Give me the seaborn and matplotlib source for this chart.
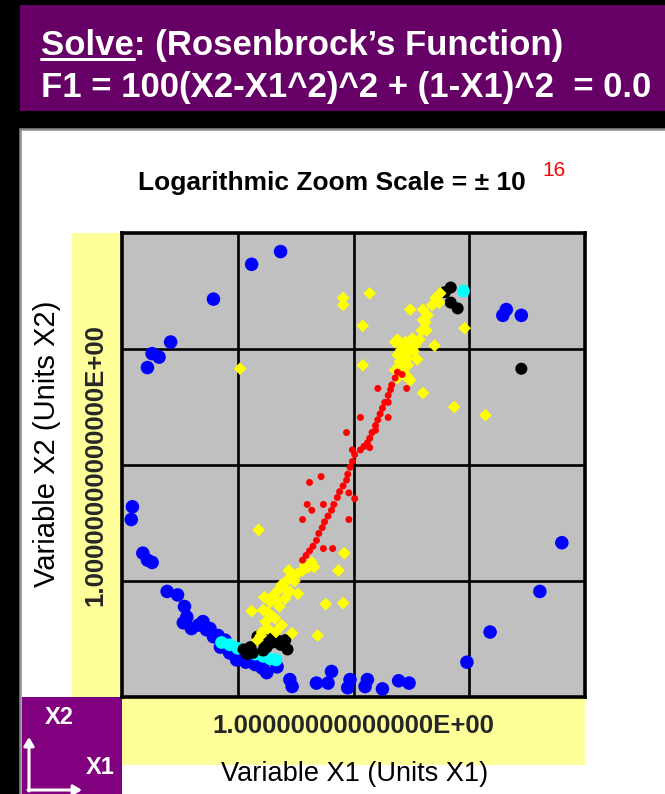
import matplotlib
matplotlib.use("Agg")
import matplotlib.pyplot as plt
from matplotlib.patches import Rectangle, FancyArrowPatch
from matplotlib.lines import Line2D
import seaborn as sns

# ---- solver iterates (axis units, centre of view = 1.0) ----
blue_x1 = [-0.21, 0.12, 0.37, -0.58, -0.74, -0.68, -0.78, 2.32, 2.29, 2.45,
           -0.91, -0.92, -0.82, -0.78, -0.74, -0.61, -0.52, -0.46, -0.44, -0.47,
           -0.40, -0.34, -0.27, -0.21, -0.15, -0.07, -0.01, 0.11, 0.22, 0.25,
           0.34, 0.45, 0.47, 0.68, 0.81, 0.78, 0.97, 0.95, 1.10, 1.12,
           1.25, 1.39, 1.48, 1.98, 2.18, 2.61, 2.80,
           -0.30, -0.24, -0.17, -0.11, -0.05, 0.02, 0.07, 0.15, 0.21]
blue_x2 = [2.43, 2.73, 2.84, 2.06, 1.96, 1.93, 1.84, 2.34, 2.29, 2.29,
           0.64, 0.53, 0.24, 0.18, 0.16, -0.09, -0.12, -0.22, -0.31, -0.36,
           -0.41, -0.38, -0.42, -0.48, -0.57, -0.62, -0.68, -0.68, -0.71, -0.79,
           -0.74, -0.85, -0.91, -0.88, -0.78, -0.88, -0.85, -0.92, -0.91, -0.85,
           -0.93, -0.86, -0.88, -0.70, -0.44, -0.09, 0.33,
           -0.35, -0.41, -0.47, -0.51, -0.58, -0.64, -0.70, -0.72, -0.75]

cyan_x1 = [-0.14, -0.07, 0.00, 0.07, 0.15, 0.22, 0.28, 0.33, 1.95]
cyan_x2 = [-0.53, -0.55, -0.58, -0.60, -0.63, -0.65, -0.67, -0.68, 2.50]

black_x1 = [0.05, 0.11, 0.13, 0.17, 0.19, 0.25, 0.30, 0.34, 0.41, 0.43,
            0.08, 0.22, 0.28, 0.37,
            1.79, 1.84, 1.84, 1.90, 2.45]
black_x2 = [-0.59, -0.57, -0.62, -0.48, -0.51, -0.57, -0.53, -0.51, -0.51, -0.59,
            -0.63, -0.60, -0.49, -0.55,
            2.49, 2.53, 2.40, 2.35, 1.83]

yellow_x1 = [0.17, 0.21, 0.24, 0.26, 0.28, 0.31, 0.35, 0.38, 0.43, 0.47,
             0.51, 0.56, 0.61, 0.64, 0.26, 0.32, 0.36, 0.41, 0.45, 0.33, 0.38,
             0.20, 0.29, 0.34, 0.40, 0.49, 0.58, 0.66,
             0.18, 0.12, 0.22, 0.23, 0.44, 0.52, 0.47, 0.69, 0.76, 0.91, 0.87, 0.92,
             1.36, 1.40, 1.44, 1.49, 1.53, 1.43, 1.36, 1.51, 1.57, 1.47, 1.55,
             1.38, 1.59, 1.62, 1.64, 1.68, 1.71, 1.75, 1.38, 1.44, 1.49,
             1.41, 1.46, 1.52, 1.40, 1.45,
             1.14, 0.91, 0.91, 1.74, 1.49, 1.60, 1.08, 1.96, 1.60, 1.63, 1.38,
             1.70, 1.08, 1.47, 1.60, 1.87, 2.14, 0.02]
yellow_x2 = [-0.51, -0.44, -0.35, -0.27, -0.18, -0.12, -0.08, -0.03, 0.01, 0.03,
             0.06, 0.09, 0.12, 0.16, -0.41, -0.32, -0.22, -0.15, -0.09, -0.44, -0.38,
             -0.47, -0.30, -0.17, -0.06, 0.00, 0.13, 0.12,
             0.44, -0.26, -0.25, -0.14, 0.09, -0.11, -0.45, -0.47, -0.20, -0.19, 0.09, 0.24,
             1.82, 1.89, 1.95, 1.99, 2.03, 2.03, 2.06, 2.09, 2.08, 1.86, 1.91,
             1.95, 2.16, 2.23, 2.29, 2.38, 2.44, 2.48, 1.75, 1.78, 1.73,
             1.99, 1.92, 1.98, 1.84, 2.06,
             2.48, 2.44, 2.38, 2.40, 2.34, 2.34, 2.20, 2.18, 2.25, 2.16, 2.08,
             2.03, 1.86, 1.76, 1.62, 1.50, 1.43, 1.83]

red_x1 = [1.38, 1.36, 1.33, 1.32, 1.30, 1.27, 1.25, 1.23, 1.21, 1.19,
          1.16, 1.14, 1.12, 1.09, 1.06, 1.01, 0.99, 0.97, 0.95, 0.94,
          0.91, 0.88, 0.86, 0.83, 0.81, 0.78, 0.75, 0.73, 0.70, 0.68,
          0.65, 0.62, 0.59, 0.56, 1.42, 1.30, 1.19,
          1.21, 1.46, 1.30, 1.06, 0.94, 1.14, 0.99, 0.62, 0.72, 0.60,
          0.64, 0.74, 0.56, 0.74, 0.82, 0.96, 1.01, 0.96]
red_x2 = [1.80, 1.75, 1.69, 1.65, 1.60, 1.54, 1.49, 1.44, 1.39, 1.34,
          1.28, 1.23, 1.19, 1.16, 1.13, 1.09, 1.03, 0.98, 0.92, 0.87,
          0.82, 0.77, 0.72, 0.66, 0.61, 0.56, 0.51, 0.46, 0.41, 0.35,
          0.30, 0.26, 0.22, 0.18, 1.78, 1.54, 1.30,
          1.66, 1.66, 1.41, 1.41, 1.28, 1.15, 1.13, 0.85, 0.90, 0.66,
          0.61, 0.66, 0.53, 0.28, 0.28, 0.76, 0.71, 0.53]

grid_ticks = [0, 1, 2]
tick_labels = ["", "1.00000000000000E+00", ""]

# ---- figure set-up ----
sns.set_theme(style="white")
plt.rcParams["font.family"] = ["Liberation Sans", "DejaVu Sans"]

W, H = 665, 794
fig = plt.figure(figsize=(W / 100, H / 100), dpi=100, facecolor="black")


def fx(px):
    return px / W


def fy(py):
    return 1 - py / H


def box(x0, y0, x1, y1, color, edge="none", lw=0, z=0):
    fig.add_artist(Rectangle((fx(x0), fy(y1)), (x1 - x0) / W, (y1 - y0) / H,
                             transform=fig.transFigure, facecolor=color,
                             edgecolor=edge, linewidth=lw, zorder=z))


# heading banner
box(20, 5, 665, 111, "#660066")
# chart panel
box(20, 129, 667, 796, "white", edge="#8c8c8c", lw=1.8)
# yellow label strips
box(72, 233, 122, 697, "#FFFF99", z=1)
box(122, 697, 585, 765, "#FFFF99", z=1)
# orientation key box
box(22, 697, 122, 794, "#800080", z=1)

# heading text
fig.text(fx(41), fy(55), "Solve: (Rosenbrock\u2019s Function)", color="white",
         fontsize=25, fontweight="bold", va="baseline", ha="left")
fig.text(fx(41), fy(97), "F1 = 100(X2-X1^2)^2 + (1-X1)^2  = 0.0", color="white",
         fontsize=25, fontweight="bold", va="baseline", ha="left")
renderer = fig.canvas.get_renderer()
probe = fig.text(fx(41), fy(55), "Solve", fontsize=25, fontweight="bold",
                 va="baseline", ha="left")
ext = probe.get_window_extent(renderer)
probe.remove()
fig.add_artist(Line2D([ext.x0 / W, ext.x1 / W], [fy(58.5), fy(58.5)],
                      transform=fig.transFigure, color="white", linewidth=2.2))

# chart title with red exponent
fig.text(fx(138), fy(190), "Logarithmic Zoom Scale = \u00b1 10", color="black",
         fontsize=19, fontweight="bold", va="baseline", ha="left")
fig.text(fx(542), fy(176), "16", color="red", fontsize=15,
         va="baseline", ha="left")

# orientation key
fig.text(fx(59), fy(718), "X2", color="white", fontsize=17, fontweight="bold",
         ha="center", va="center", zorder=3)
fig.text(fx(100), fy(768), "X1", color="white", fontsize=17, fontweight="bold",
         ha="center", va="center", zorder=3)
for (x0, y0, x1, y1) in [(29, 791, 29, 737), (28, 790, 82, 790)]:
    fig.add_artist(FancyArrowPatch((fx(x0), fy(y0)), (fx(x1), fy(y1)),
                                   transform=fig.transFigure,
                                   arrowstyle="-|>,head_length=5,head_width=3",
                                   color="white", linewidth=2.2,
                                   shrinkA=0, shrinkB=0, zorder=3))

# ---- plot area ----
ax = fig.add_axes([fx(122), fy(697), (585 - 122) / W, (697 - 233) / H], zorder=2)
ax.set_facecolor("#C0C0C0")

sns.scatterplot(x=blue_x1, y=blue_x2, ax=ax, color="#0000FF", s=95,
                marker="o", linewidth=0, edgecolor="none", zorder=3)
sns.scatterplot(x=cyan_x1, y=cyan_x2, ax=ax, color="#00FFFF", s=85,
                marker="o", linewidth=0, edgecolor="none", zorder=4)
sns.scatterplot(x=black_x1, y=black_x2, ax=ax, color="black", s=75,
                marker="o", linewidth=0, edgecolor="none", zorder=5)
sns.scatterplot(x=yellow_x1, y=yellow_x2, ax=ax, color="#FFFF00", s=42,
                marker="D", linewidth=0, edgecolor="none", zorder=6)
sns.scatterplot(x=red_x1, y=red_x2, ax=ax, color="#FF0000", s=25,
                marker="o", linewidth=0, edgecolor="none", zorder=7)

ax.set_xlim(-1, 3)
ax.set_ylim(-1, 3)
ax.set_xticks(grid_ticks)
ax.set_yticks(grid_ticks)
ax.set_xticklabels(tick_labels, fontsize=18.5, fontweight="bold")
ax.set_yticklabels(tick_labels, fontsize=18.5, fontweight="bold",
                   rotation=90, va="center")
ax.tick_params(axis="x", length=0, pad=12)
ax.tick_params(axis="y", length=0, pad=10.5)
ax.grid(True, color="black", linewidth=1.9)
ax.set_axisbelow(True)
for sp in ax.spines.values():
    sp.set_visible(True)
    sp.set_color("black")
    sp.set_linewidth(2.6)

ax.set_xlabel("Variable X1 (Units X1)", fontsize=19.5, color="black")
ax.xaxis.set_label_coords(0.503, -(761 - 697) / 464)
ax.set_ylabel("Variable X2 (Units X2)", fontsize=21, color="black")
ax.yaxis.set_label_coords(-(122 - 61) / 463, (697 - 444) / 464)

fig.savefig("out.png", dpi=100, facecolor="black")
